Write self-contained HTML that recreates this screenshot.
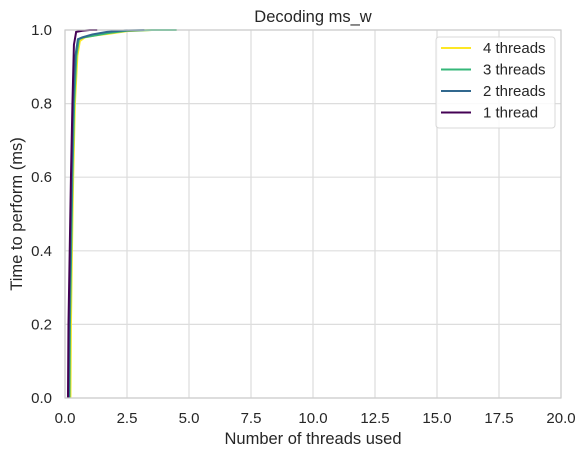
<!DOCTYPE html>
<html><head><meta charset="utf-8"><style>
body{margin:0;background:#fff;font-family:"Liberation Sans","DejaVu Sans",sans-serif}
svg text{font-family:"Liberation Sans","DejaVu Sans",sans-serif;fill:#262626}
</style></head><body>
<svg width="586" height="457">
<g id="grid"></g>
<g id="series"></g>
<rect x="65" y="30" width="496" height="368" fill="none" stroke="#cccccc" stroke-width="1.2"/>
<g id="ticks"></g>
<text x="313" y="22" text-anchor="middle" font-size="16.5">Decoding ms_w</text>
<text x="313" y="444" text-anchor="middle" font-size="16.5">Number of threads used</text>
<text transform="translate(22,214) rotate(-90)" text-anchor="middle" font-size="16.5">Time to perform (ms)</text>
<g>
<rect x="436" y="37" width="119" height="91" rx="3" fill="#fff" fill-opacity="0.85" stroke="#d8d8d8"/>
<g id="legend-items"></g>
</g>
</svg>
<script>
const xTicks=[0,2.5,5,7.5,10,12.5,15,17.5,20];
const xTickLabels=["0.0","2.5","5.0","7.5","10.0","12.5","15.0","17.5","20.0"];
const yTicks=[0,0.2,0.4,0.6,0.8,1.0];
const yTickLabels=["0.0","0.2","0.4","0.6","0.8","1.0"];
const seriesNames=["4 threads","3 threads","2 threads","1 thread"];
const seriesColors=["#fde725","#35b779","#31688e","#440154"];
const s4x=[0.22,0.24,0.28,0.33,0.40,0.50,0.60,0.80,1.2,1.8,2.5,3.5,4.5];
const s4y=[0,0.2,0.4,0.6,0.8,0.93,0.97,0.98,0.985,0.99,0.997,1,1];
const s3x=[0.18,0.20,0.25,0.30,0.37,0.46,0.56,0.75,1.2,1.8,2.5,3.5,4.5];
const s3y=[0,0.2,0.4,0.6,0.8,0.93,0.975,0.98,0.985,0.992,0.998,1,1];
const s2x=[0.15,0.17,0.22,0.27,0.33,0.42,0.52,0.7,1.1,1.7,2.4,3.2];
const s2y=[0,0.2,0.4,0.6,0.8,0.93,0.975,0.98,0.988,0.995,0.999,1];
const s1x=[0.12,0.14,0.19,0.24,0.30,0.36,0.45,0.7,1.0,1.3];
const s1y=[0,0.2,0.4,0.6,0.8,0.96,0.995,0.998,1,1];
const xs=[s4x,s3x,s2x,s1x], ys=[s4y,s3y,s2y,s1y];
const X=v=>65+v/20*496, Y=v=>398-v*368;
const NS="http://www.w3.org/2000/svg";
function mk(t,a,p){const e=document.createElementNS(NS,t);for(const k in a)e.setAttribute(k,a[k]);p.appendChild(e);return e;}
const grid=document.getElementById('grid'),ticks=document.getElementById('ticks');
xTicks.forEach((v,i)=>{const l=mk('line',{x1:X(v),x2:X(v),y1:30,y2:398,stroke:'#dddddd','stroke-width':1.2},grid);


const t=mk('text',{x:X(v),y:423,'text-anchor':'middle','font-size':15},ticks);t.textContent=xTickLabels[i];

});
yTicks.forEach((v,i)=>{const l=mk('line',{x1:65,x2:561,y1:Y(v),y2:Y(v),stroke:'#dddddd','stroke-width':1.2},grid);


const t=mk('text',{x:52,y:Y(v)+5,'text-anchor':'end','font-size':15},ticks);t.textContent=yTickLabels[i];

});
const sg=document.getElementById('series'),lg=document.getElementById('legend-items');
seriesNames.forEach((n,i)=>{
const p=mk('polyline',{points:xs[i].map((x,j)=>X(x)+','+Y(ys[i][j])).join(' '),fill:'none',stroke:seriesColors[i],'stroke-width':2},sg);


const y=48+i*21.5;
const l=mk('line',{x1:441,x2:471,y1:y,y2:y,stroke:seriesColors[i],'stroke-width':2},lg);


const t=mk('text',{x:483,y:y+5,'font-size':15},lg);t.textContent=n;

});
</script>
</body></html>
